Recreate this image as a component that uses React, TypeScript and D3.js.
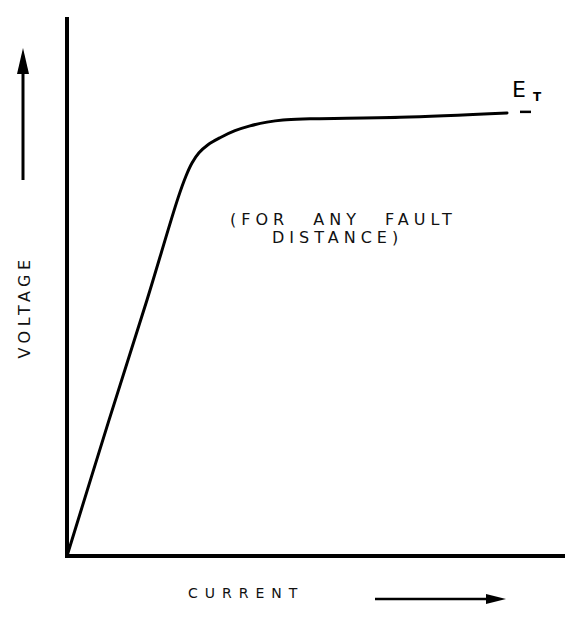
import React from "react";
import * as d3 from "d3";

// Voltage–current characteristic (arbitrary units, 0–100 on each axis)
const current = [0, 8.4, 16, 22.2, 23.8, 25, 26.4, 28.2, 30.6, 33.6, 36.6, 40, 43.2, 48.6, 66.6, 88];
const voltage = [0, 25.2, 47.5, 66.4, 70.5, 72.9, 74.8, 76.3, 77.6, 78.9, 79.8, 80.5, 80.9, 81.1, 81.4, 82.2];

// short trailing piece of the plateau next to the E_T label
const tailCurrent = [90.6, 92.8];
const tailVoltage = [82.4, 82.4];

const yLabel = "VOLTAGE";
const xLabel = "CURRENT";
const noteLines = ["(FOR ANY FAULT", "DISTANCE)"];
const levelLabel = "E";
const levelSub = "T";

const W = 565;
const H = 618;

export default function App() {
  const x = d3.scaleLinear().domain([0, 100]).range([67, 567]);
  const y = d3.scaleLinear().domain([0, 100]).range([556, 17]);

  const pts: [number, number][] = current.map((c, i) => [c, voltage[i]]);
  const tail: [number, number][] = tailCurrent.map((c, i) => [c, tailVoltage[i]]);

  const line = d3
    .line<[number, number]>()
    .x((d) => x(d[0]))
    .y((d) => y(d[1]))
    .curve(d3.curveCatmullRom.alpha(0.5));

  const font = "'DejaVu Sans', 'Liberation Sans', sans-serif";

  return (
    <svg
      width={W}
      height={H}
      viewBox={`0 0 ${W} ${H}`}
      style={{ position: "absolute", left: 0, top: 0, background: "#fff" }}
    >
      {/* axes */}
      <line x1={x(0)} y1={y(100)} x2={x(0)} y2={y(0) + 2} stroke="#000" strokeWidth={4} />
      <line x1={x(0) - 2} y1={y(0)} x2={W} y2={y(0)} stroke="#000" strokeWidth={4} />

      {/* characteristic */}
      <path d={line(pts) ?? ""} fill="none" stroke="#000" strokeWidth={3} strokeLinecap="round" />
      <path d={line(tail) ?? ""} fill="none" stroke="#000" strokeWidth={2.5} />

      {/* E_T label */}
      <text x={512} y={97} fontFamily={font} fontSize={22} fill="#000">
        {levelLabel}
      </text>
      <text x={533} y={101} fontFamily={font} fontSize={12} fontWeight="bold" fill="#000">
        {levelSub}
      </text>

      {/* note */}
      <text
        x={230}
        y={225}
        fontFamily={font}
        fontSize={16}
        letterSpacing={5}
        wordSpacing={14}
        fill="#111"
      >
        {noteLines[0]}
      </text>
      <text x={272} y={243} fontFamily={font} fontSize={16} letterSpacing={5} fill="#111">
        {noteLines[1]}
      </text>

      {/* y label and arrow */}
      <text
        transform={`translate(30,307) rotate(-90)`}
        textAnchor="middle"
        fontFamily={font}
        fontSize={16}
        letterSpacing={4.5}
        fill="#111"
      >
        {yLabel}
      </text>
      <line x1={23} y1={180} x2={23} y2={70} stroke="#000" strokeWidth={3} />
      <path d="M23,48 L17,74 L29,74 Z" fill="#000" />

      {/* x label and arrow */}
      <text x={188} y={598} fontFamily={font} fontSize={14} letterSpacing={7} fill="#111">
        {xLabel}
      </text>
      <line x1={375} y1={599} x2={490} y2={599} stroke="#000" strokeWidth={2.5} />
      <path d="M506,599 L486,594 L486,604 Z" fill="#000" />
    </svg>
  );
}
